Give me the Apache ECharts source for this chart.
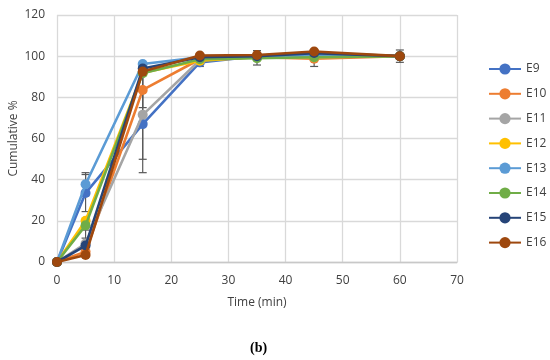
<!DOCTYPE html>
<html><head><meta charset="utf-8">
<script src="https://cdn.jsdelivr.net/npm/echarts@6/dist/echarts.min.js"></script>
<style>html,body{margin:0;padding:0;background:#fff}#c{width:550px;height:360px}</style>
</head><body><div id="c"></div>
<script>
var times = [0, 5, 15, 25, 35, 45, 60];
var names = ['E9','E10','E11','E12','E13','E14','E15','E16'];
var colors = ['#4472C4','#ED7D31','#A5A5A5','#FFC000','#5B9BD5','#70AD47','#264478','#9E480E'];
var E9  = [0, 33.5, 67.0, 97.0, 100.0, 101.0, 100];
var E10 = [0, 5.0, 83.6, 98.5, 99.5, 98.8, 100];
var E11 = [0, 9.0, 71.5, 98.0, 99.5, 99.5, 100];
var E12 = [0, 20.0, 92.0, 97.8, 99.5, 99.5, 100];
var E13 = [0, 37.8, 96.2, 99.5, 99.5, 100.5, 100];
var E14 = [0, 17.8, 91.7, 98.5, 99.0, 99.5, 100];
var E15 = [0, 8.0, 94.0, 99.5, 100.0, 101.5, 100];
var E16 = [0, 3.4, 92.5, 100.3, 100.6, 102.3, 100];
var values = [E9, E10, E11, E12, E13, E14, E15, E16];
// error bars: [time, low, high]
var errorBars = [
  [5, 32.2, 43.4], [5, 24.5, 42.5], [5, 4.4, 11.6], [5, 2.5, 15.5],
  [15, 43.4, 90.6], [15, 49.9, 93.1], [15, 75.0, 92.2],
  [25, 95.0, 99.0], [35, 95.7, 102.7], [45, 95.0, 102.6], [60, 97.0, 103.0]
];
var series = [{
  type: 'custom', name: 'err', silent: true, z: 1,
  data: errorBars,
  renderItem: function (params, api) {
    var x = api.value(0);
    var lo = api.coord([x, api.value(1)]);
    var hi = api.coord([x, api.value(2)]);
    var w = 4;
    var st = {stroke: '#595959', lineWidth: 1.2};
    return {type: 'group', children: [
      {type: 'line', shape: {x1: lo[0], y1: lo[1], x2: hi[0], y2: hi[1]}, style: st},
      {type: 'line', shape: {x1: lo[0]-w, y1: lo[1], x2: lo[0]+w, y2: lo[1]}, style: st},
      {type: 'line', shape: {x1: hi[0]-w, y1: hi[1], x2: hi[0]+w, y2: hi[1]}, style: st}
    ]};
  }
}];
names.forEach(function (n, i) {
  series.push({
    type: 'line', name: n, z: 2 + i,
    data: times.map(function (t, j) { return [t, values[i][j]]; }),
    symbol: 'circle', symbolSize: 10,
    lineStyle: {width: 2.6, color: colors[i]},
    itemStyle: {color: colors[i]},
    animation: false
  });
});
var chart = echarts.init(document.getElementById('c'));
chart.setOption({
  animation: false,
  color: colors,
  grid: {left: 57, right: 93, top: 15, bottom: 98, containLabel: false, outerBoundsMode: 'none'},
  legend: {
    data: names, orient: 'vertical', left: 488, top: 63, padding: 0,
    itemWidth: 32, itemHeight: 14, itemGap: 12.8,
    textStyle: {fontFamily: 'Open Sans', fontSize: 12, color: '#404040'}
  },
  xAxis: {
    type: 'value', min: 0, max: 70, interval: 10,
    name: 'Time (min)', nameLocation: 'middle', nameGap: 35, nameMoveOverlap: false,
    nameTextStyle: {fontFamily: 'Open Sans', fontSize: 12, color: '#404040'},
    axisLine: {lineStyle: {color: '#c8c8c8', width: 1.3}},
    axisTick: {show: false},
    axisLabel: {fontFamily: 'Open Sans', fontSize: 12, color: '#404040', margin: 13},
    splitLine: {lineStyle: {color: '#d9d9d9', width: 1.3}}
  },
  yAxis: {
    type: 'value', min: 0, max: 120, interval: 20,
    name: 'Cumulative %', nameLocation: 'middle', nameGap: 37, nameRotate: 90, nameMoveOverlap: false,
    nameTextStyle: {fontFamily: 'Open Sans', fontSize: 12, color: '#404040'},
    axisLine: {show: false}, axisTick: {show: false},
    axisLabel: {fontFamily: 'Open Sans', fontSize: 12, color: '#404040', margin: 12},
    splitLine: {lineStyle: {color: '#d9d9d9', width: 1.3}}
  },
  graphic: [{
    type: 'text', left: 250, top: 341,
    style: {text: '(b)', font: 'bold 14px "Liberation Serif"', fill: '#000'}
  }],
  series: series
});
</script></body></html>
